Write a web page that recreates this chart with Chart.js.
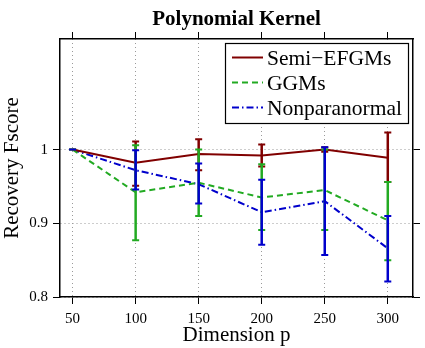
<!DOCTYPE html>
<html><head><meta charset="utf-8">
<script src="https://cdn.jsdelivr.net/npm/chart.js@4/dist/chart.umd.min.js"></script>
<style>html,body{margin:0;padding:0;background:#fff}</style>
</head><body>
<canvas id="c" width="425" height="348" style="display:block;width:425px;height:348px"></canvas>
<script>
// ---- data ----
const dimensions = [50, 100, 150, 200, 250, 300];
const xTicks = [50, 100, 150, 200, 250, 300];
const yTicks = [0.8, 0.9, 1.0];
const seriesNames = ['Semi\u2212EFGMs', 'GGMs', 'Nonparanormal'];

const semiMean = [1.000, 0.982, 0.994, 0.992, 1.000, 0.989];
const semiLow  = [1.000, 0.951, 0.972, 0.977, 0.997, 0.956];
const semiHigh = [1.000, 1.011, 1.014, 1.007, 1.003, 1.023];

const ggmMean = [1.000, 0.942, 0.955, 0.935, 0.945, 0.904];
const ggmLow  = [1.000, 0.877, 0.910, 0.891, 0.891, 0.850];
const ggmHigh = [1.000, 1.006, 1.000, 0.980, 1.000, 0.956];

const npnMean = [1.000, 0.972, 0.953, 0.915, 0.930, 0.866];
const npnLow  = [1.000, 0.946, 0.927, 0.871, 0.857, 0.821];
const npnHigh = [1.000, 0.999, 0.981, 0.959, 1.003, 0.910];

// ---- styles ----
const SERIF = '"Liberation Serif", "Times New Roman", serif';
const colors = ['#800000', '#22aa22', '#0000cc'];
const dashes = [[], [6, 4], [7, 3, 1.5, 3]];
const means = [semiMean, ggmMean, npnMean];
const lows = [semiLow, ggmLow, npnLow];
const highs = [semiHigh, ggmHigh, npnHigh];

const datasets = seriesNames.map((name, k) => ({
  label: name,
  data: dimensions.map((d, i) => ({x: d, y: means[k][i]})),
  borderColor: colors[k],
  backgroundColor: colors[k],
  borderWidth: 2,
  borderDash: dashes[k],
  pointRadius: 0,
  tension: 0,
  fill: false
}));

const setTicks = (vals) => (scale) => { scale.ticks = vals.map(v => ({value: v})); };

const errorBarPlugin = {
  id: 'errorBars',
  afterDatasetsDraw(chart) {
    const ctx = chart.ctx, xs = chart.scales.x, ys = chart.scales.y;
    seriesNames.forEach((n, k) => {
      ctx.save();
      ctx.strokeStyle = colors[k];
      ctx.setLineDash([]);
      dimensions.forEach((d, i) => {
        const px = xs.getPixelForValue(d);
        const pl = ys.getPixelForValue(lows[k][i]);
        const ph = ys.getPixelForValue(highs[k][i]);
        ctx.lineWidth = 2.5;
        ctx.beginPath(); ctx.moveTo(px, pl); ctx.lineTo(px, ph); ctx.stroke();
        ctx.lineWidth = 2;
        ctx.beginPath();
        ctx.moveTo(px - 3.5, pl); ctx.lineTo(px + 3.5, pl);
        ctx.moveTo(px - 3.5, ph); ctx.lineTo(px + 3.5, ph);
        ctx.stroke();
      });
      ctx.restore();
    });
  }
};

const legendTitlePlugin = {
  id: 'legendTitle',
  afterDraw(chart) {
    const ctx = chart.ctx, a = chart.chartArea;
    // title
    ctx.save();
    ctx.fillStyle = '#000';
    ctx.font = 'bold 21px ' + SERIF;
    ctx.textAlign = 'center';
    ctx.textBaseline = 'alphabetic';
    ctx.fillText('Polynomial Kernel', (a.left + a.right) / 2, 25);
    ctx.restore();
    // legend box
    const bx = a.left + 165, by = a.top + 4, bw = a.right - 5 - bx, bh = 80;
    ctx.save();
    ctx.fillStyle = '#fff';
    ctx.fillRect(bx, by, bw, bh);
    ctx.strokeStyle = '#000';
    ctx.lineWidth = 1.2;
    ctx.strokeRect(bx + 0.5, by + 0.5, bw, bh);
    ctx.font = '21.5px ' + SERIF;
    ctx.textAlign = 'left';
    ctx.textBaseline = 'alphabetic';
    seriesNames.forEach((name, k) => {
      const base = by + 22 + k * 25;
      const ly = base - 7.5;
      ctx.strokeStyle = colors[k];
      ctx.lineWidth = 2;
      ctx.setLineDash(dashes[k]);
      ctx.beginPath(); ctx.moveTo(bx + 7, ly); ctx.lineTo(bx + 38, ly); ctx.stroke();
      ctx.setLineDash([]);
      ctx.fillStyle = '#000';
      ctx.fillText(name, bx + 42, base);
    });
    ctx.restore();
  }
};

const tickFont = {family: SERIF, size: 15};
const titleFont = {family: SERIF, size: 21};

new Chart(document.getElementById('c'), {
  type: 'line',
  data: {datasets},
  options: {
    responsive: false,
    devicePixelRatio: 1,
    animation: false,
    events: [],
    layout: {padding: 0},
    plugins: {legend: {display: false}, title: {display: false}, tooltip: {enabled: false}},
    scales: {
      x: {
        type: 'linear', position: 'bottom', min: 40, max: 320,
        afterBuildTicks: setTicks(xTicks),
        afterFit: (s) => { s.height = 51; },
        ticks: {font: tickFont, color: '#000', padding: 6, maxRotation: 0, callback: (v) => String(v)},
        grid: {color: '#9a9a9a', lineWidth: 1, tickLength: 7, tickColor: '#000', tickWidth: 1, tickBorderDash: []},
        border: {color: '#000', width: 1.5, dash: [1, 3]},
        title: {display: true, text: 'Dimension p', font: titleFont, color: '#000', padding: {top: 0, bottom: 0}}
      },
      x2: {
        type: 'linear', position: 'top', min: 40, max: 320,
        afterBuildTicks: setTicks(xTicks),
        afterFit: (s) => { s.height = 39; },
        ticks: {display: false},
        grid: {drawOnChartArea: false, tickLength: 7, tickColor: '#000', tickWidth: 1},
        border: {color: '#000', width: 1.5}
      },
      y: {
        type: 'linear', position: 'left', min: 0.8, max: 1.15,
        afterBuildTicks: setTicks(yTicks),
        afterFit: (s) => { s.width = 60; },
        ticks: {font: tickFont, color: '#000', padding: 5, callback: (v) => String(Math.round(v * 10) / 10)},
        grid: {color: '#9a9a9a', lineWidth: 1, tickLength: 7, tickColor: '#000', tickWidth: 1, tickBorderDash: []},
        border: {color: '#000', width: 1.5, dash: [1, 3]},
        title: {display: true, text: 'Recovery Fscore', font: titleFont, color: '#000', padding: 0}
      },
      y2: {
        type: 'linear', position: 'right', min: 0.8, max: 1.15,
        afterBuildTicks: setTicks(yTicks),
        afterFit: (s) => { s.width = 12; },
        ticks: {display: false},
        grid: {drawOnChartArea: false, tickLength: 7, tickColor: '#000', tickWidth: 1},
        border: {color: '#000', width: 1.5}
      }
    }
  },
  plugins: [errorBarPlugin, legendTitlePlugin]
});
</script>
</body></html>
